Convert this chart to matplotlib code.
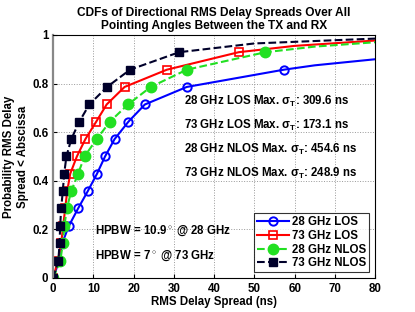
import matplotlib
matplotlib.use("Agg")
import matplotlib.pyplot as plt

plt.rcParams['font.family'] = ['Liberation Sans', 'DejaVu Sans']
plt.rcParams['font.weight'] = 'bold'
plt.rcParams['mathtext.fontset'] = 'custom'
plt.rcParams['mathtext.rm'] = 'Liberation Sans:bold'
plt.rcParams['mathtext.it'] = 'Liberation Sans:bold'
plt.rcParams['mathtext.default'] = 'rm'

# CDF levels (markers sit on k/14 steps), extra tail points have no marker
cdf = [0, 0.071, 0.143, 0.214, 0.286, 0.357, 0.429, 0.5, 0.571, 0.643, 0.714, 0.786, 0.857, 0.929]

los28_x = [0, 1.5, 2.25, 3.9, 6.2, 8.6, 10.9, 12.9, 15.25, 18.7, 22.8, 33.2, 57.3, 65, 80]
los28_y = cdf[:13] + [0.875, 0.90]

los73_x = [0, 1.2, 2.0, 2.5, 3.0, 3.5, 4.25, 5.9, 8.0, 10.7, 13.3, 17.75, 28.25, 46.1, 60, 80]
los73_y = cdf + [0.955, 0.977]

nlos28_x = [0, 1.8, 2.4, 2.8, 3.4, 4.5, 6.2, 7.8, 10.8, 14.1, 18.6, 24.25, 33.2, 52.75, 65, 80]
nlos28_y = cdf + [0.952, 0.97]

nlos73_x = [0, 1.3, 1.6, 1.75, 2.0, 2.4, 2.75, 3.3, 4.5, 6.5, 9.0, 13.4, 19.1, 31.3, 50, 80]
nlos73_y = cdf + [0.965, 0.985]

max_labels = ['28 GHz LOS Max. $\\sigma_T$: 309.6 ns',
              '73 GHz LOS Max. $\\sigma_T$: 173.1 ns',
              '28 GHz NLOS Max. $\\sigma_T$: 454.6 ns',
              '73 GHz NLOS Max. $\\sigma_T$: 248.9 ns']
hpbw_labels = ['HPBW = 10.9$^\\circ$ @ 28 GHz', 'HPBW = 7$^\\circ$ @ 73 GHz']

fig = plt.figure(figsize=(4.15, 3.12), dpi=100)
ax = fig.add_axes([0.128, 0.109, 0.776, 0.779])

ax.plot(los28_x, los28_y, '-', color='#0000ff', lw=1.5, marker='o', ms=6,
        mfc='none', mew=1.4, markevery=list(range(13)), label='28 GHz LOS')
ax.plot(los73_x, los73_y, '-', color='#ff0000', lw=1.5, marker='s', ms=5.5,
        mfc='none', mew=1.2, markevery=list(range(14)), label='73 GHz LOS')
ax.plot(nlos28_x, nlos28_y, '--', color='#22e022', lw=1.5, marker='o', ms=7.5,
        markevery=list(range(14)), label='28 GHz NLOS')
ax.plot(nlos73_x, nlos73_y, '--', color='#00002a', lw=1.5, marker='s', ms=6,
        markevery=list(range(14)), label='73 GHz NLOS')

for i, t in enumerate(max_labels):
    ax.text(32.5, 0.728 - i * 0.099, t, fontsize=8.3, fontweight='bold', va='center')
for i, t in enumerate(hpbw_labels):
    ax.text(10.5, 0.193 - i * 0.103, t, fontsize=8.3, fontweight='bold', va='center')

ax.set_xlim(0, 80)
ax.set_ylim(0, 1)
ax.set_xticks(range(0, 81, 10))
ax.set_yticks([0, 0.2, 0.4, 0.6, 0.8, 1])
ax.set_yticklabels(['0', '0.2', '0.4', '0.6', '0.8', '1'])
ax.tick_params(direction='in', labelsize=8.3, length=3)
ax.grid(True, linestyle=':', color='#999999', lw=0.7)
ax.spines['left'].set_color('#888888')
ax.spines['left'].set_linewidth(1.6)
ax.set_xlabel('RMS Delay Spread (ns)', fontsize=8.3, fontweight='bold', labelpad=1)
ax.set_ylabel('Probability RMS Delay\nSpread < Abscissa', fontsize=8.3, fontweight='bold', labelpad=2)
ax.set_title('CDFs of Directional RMS Delay Spreads Over All\nPointing Angles Between the TX and RX',
             fontsize=8.6, fontweight='bold', pad=4)

leg = ax.legend(loc='lower right', fontsize=8.3, frameon=True, fancybox=False,
                edgecolor='black', handlelength=2.8, borderpad=0.25,
                labelspacing=0.15, handletextpad=0.3, borderaxespad=0.5)
leg.get_frame().set_linewidth(0.8)

fig.savefig('out.png', dpi=100)
